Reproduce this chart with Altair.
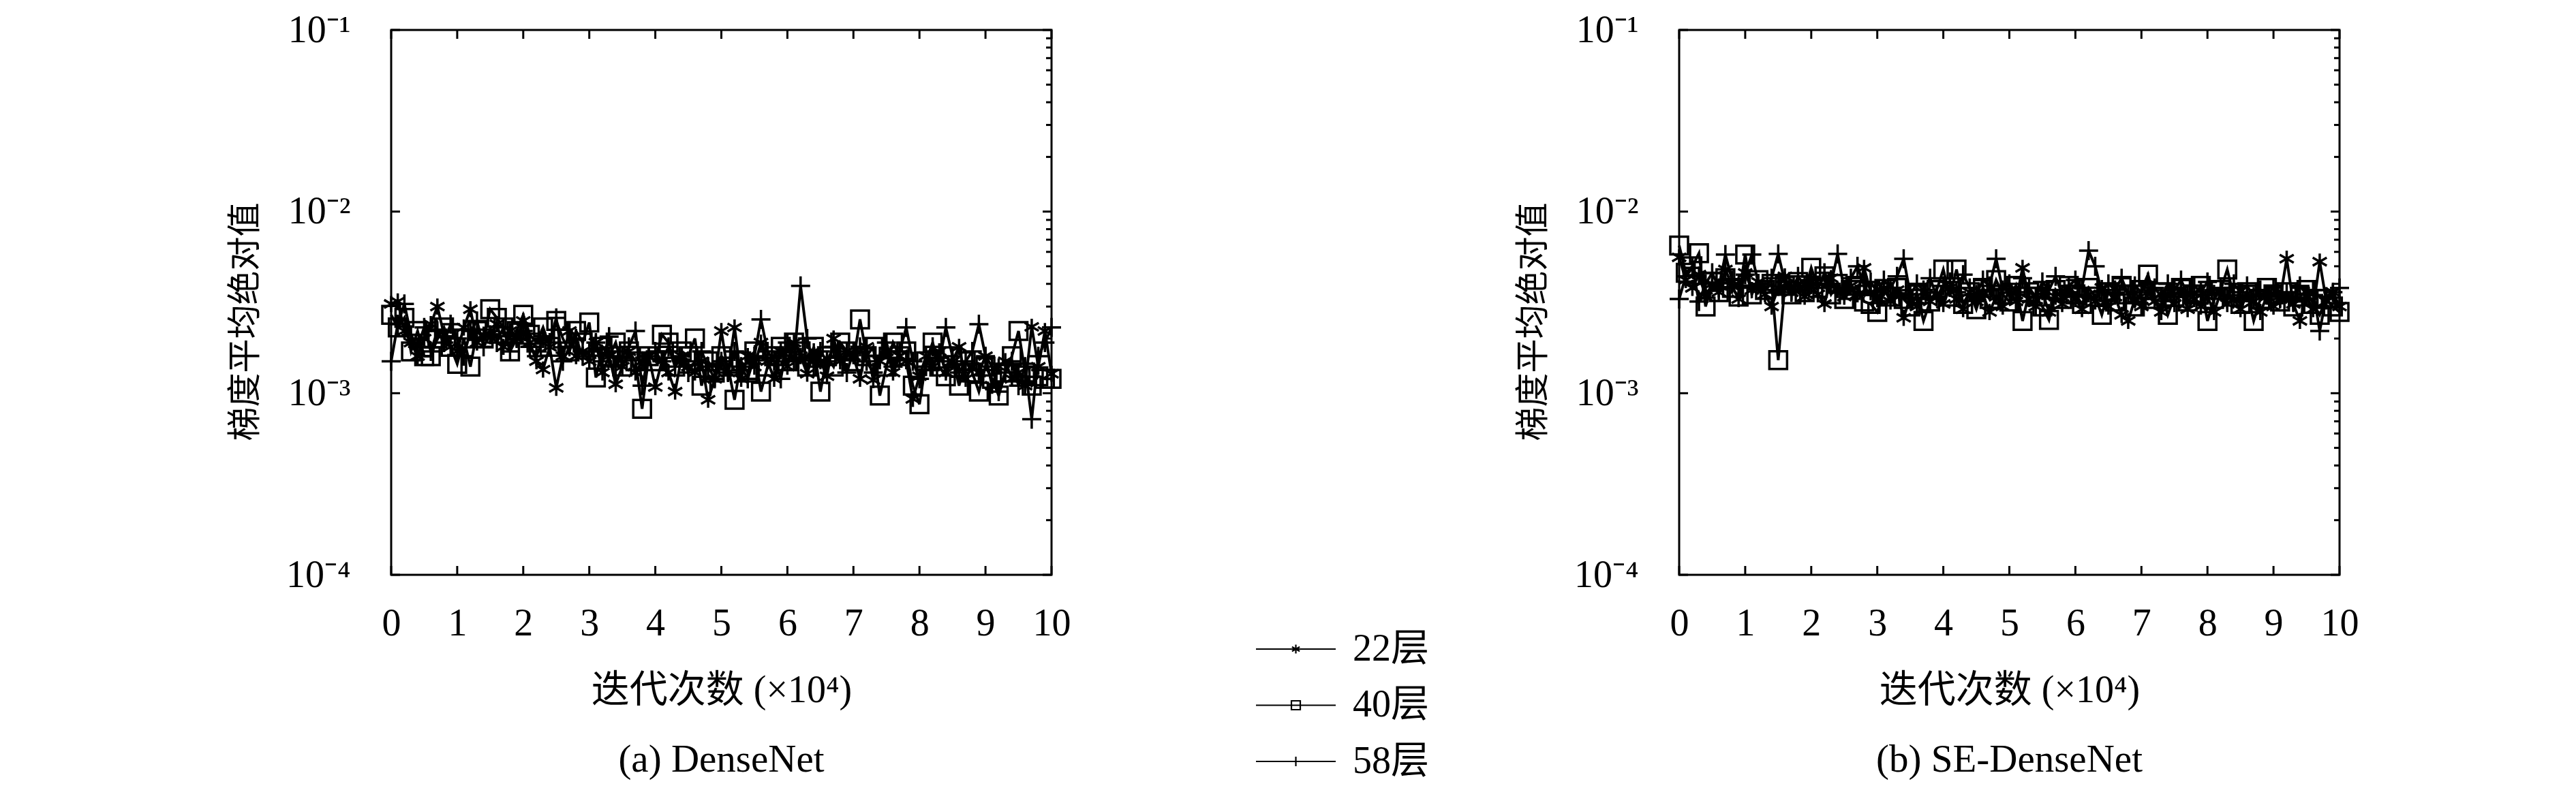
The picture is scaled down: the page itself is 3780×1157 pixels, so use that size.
import altair as alt
import pandas as pd

# ---------------- data ----------------
SERIES = ["22层", "40层", "58层"]
ITER = [i / 10 for i in range(101)]          # iterations (x 10^4)
X_TICKS = [0, 1, 2, 3, 4, 5, 6, 7, 8, 9, 10]
Y_TICKS = [1e-4, 1e-3, 1e-2, 1e-1]
Y_MINOR = [2e-4, 3e-4, 4e-4, 5e-4, 6e-4, 7e-4, 8e-4, 9e-4,
           2e-3, 3e-3, 4e-3, 5e-3, 6e-3, 7e-3, 8e-3, 9e-3,
           2e-2, 3e-2, 4e-2, 5e-2, 6e-2, 7e-2, 8e-2, 9e-2]

# values in units of 1e-3
DN_22 = [3.1, 3.2, 2.2, 1.9, 1.6, 2.0, 2.4, 3.0, 2.1, 1.8,
         1.7, 2.3, 2.9, 1.9, 2.1, 2.1, 2.4, 1.8, 2.2, 2.0,
         2.5, 1.9, 1.5, 1.35, 1.8, 1.07, 1.6, 2.2, 1.6, 1.7,
         1.5, 1.9, 1.3, 1.6, 1.12, 1.4, 1.7, 1.3, 1.5, 1.6,
         1.08, 1.5, 1.3, 1.02, 1.6, 1.4, 1.3, 1.5, 0.92, 1.2,
         2.2, 1.3, 2.3, 1.2, 1.6, 1.4, 1.9, 1.5, 1.2, 1.7,
         1.4, 1.9, 1.6, 1.28, 1.7, 1.5, 1.24, 2.0, 1.5, 1.7,
         1.6, 1.2, 1.8, 1.18, 1.5, 1.7, 1.3, 1.6, 1.5, 0.93,
         1.24, 1.6, 1.4, 1.7, 1.3, 1.5, 1.8, 1.2, 1.4, 1.3,
         1.6, 1.1, 1.4, 1.5, 1.2, 1.3, 1.1, 2.32, 1.4, 2.2,
         1.28]
DN_40 = [2.7, 2.3, 2.6, 1.7, 2.2, 1.6, 1.6, 2.0, 2.3, 1.8,
         1.45, 2.0, 1.4, 2.2, 2.0, 2.9, 2.6, 2.3, 1.7, 2.2,
         2.7, 2.1, 1.9, 2.3, 1.8, 2.5, 2.0, 1.7, 2.2, 1.9,
         2.45, 1.22, 1.8, 1.6, 1.9, 1.4, 1.7, 1.5, 0.82, 1.6,
         1.5, 2.1, 1.9, 1.4, 1.7, 1.6, 2.0, 1.1, 1.5, 1.3,
         1.6, 1.4, 0.92, 1.5, 1.3, 1.7, 1.02, 1.4, 1.6, 1.8,
         1.5, 1.9, 1.7, 1.4, 1.8, 1.02, 1.6, 1.4, 1.9, 1.7,
         1.5, 2.55, 1.6, 1.8, 0.97, 1.4, 1.9, 1.6, 1.7, 1.1,
         0.87, 1.5, 1.9, 1.4, 1.24, 1.6, 1.1, 1.5, 1.3, 1.02,
         1.4, 1.2, 0.97, 1.3, 1.6, 2.2, 1.3, 1.1, 1.24, 1.2,
         1.2]
DN_58 = [1.5, 2.4, 3.1, 2.1, 1.8, 2.3, 1.7, 2.2, 1.9, 2.4,
         2.0, 1.6, 2.2, 2.5, 1.8, 2.1, 1.9, 2.3, 1.7, 2.0,
         2.2, 1.8, 1.6, 2.0, 1.9, 2.6, 1.5, 1.8, 2.0, 1.6,
         1.7, 1.9, 1.5, 2.05, 1.4, 1.6, 1.8, 2.2, 1.1, 1.6,
         1.7, 1.5, 1.8, 1.4, 1.6, 1.3, 1.5, 1.7, 1.4, 1.2,
         1.5, 1.3, 1.7, 1.4, 1.2, 1.6, 2.55, 1.7, 1.5, 1.2,
         1.9, 1.5, 3.9, 2.0, 1.4, 1.7, 1.5, 1.8, 1.6, 1.3,
         1.7, 1.8, 1.5, 1.3, 1.6, 1.9, 1.4, 1.7, 2.3, 1.5,
         1.2, 1.4, 1.8, 1.5, 2.3, 1.6, 1.3, 1.5, 1.7, 2.4,
         1.6, 1.4, 1.02, 1.3, 1.5, 1.1, 1.4, 0.72, 1.6, 1.9,
         2.3]

SE_22 = [5.6, 4.2, 3.8, 4.5, 3.4, 4.0, 3.6, 4.8, 3.9, 3.3,
         4.6, 3.7, 4.1, 3.5, 3.0, 3.8, 4.4, 3.6, 4.0, 3.4,
         3.9, 3.5, 3.1, 4.3, 3.7, 3.4, 3.9, 3.5, 4.9, 3.6,
         3.3, 3.8, 3.2, 3.7, 2.6, 3.4, 3.0, 3.6, 3.2, 3.5,
         3.1, 3.8, 3.3, 2.9, 3.6, 3.2, 3.5, 2.8, 3.4, 3.0,
         3.7, 3.2, 4.9, 3.3, 3.0, 3.6, 2.8, 3.4, 3.1, 3.7,
         3.3, 2.9, 3.5, 3.2, 3.8, 3.0, 3.4, 2.7, 2.5, 3.3,
         3.0, 3.6, 3.2, 2.8, 3.5, 3.1, 3.7, 2.9, 3.3, 3.0,
         3.4, 2.8, 3.6, 3.1, 3.3, 2.9, 3.5, 3.2, 2.8, 3.4,
         3.0, 3.3, 5.5, 3.1, 2.5, 3.4, 2.9, 5.3, 3.2, 3.6,
         3.0]
SE_40 = [6.5, 4.6, 5.0, 5.9, 3.0, 4.1, 3.6, 4.3, 3.8, 3.4,
         5.8, 3.5, 4.2, 3.7, 4.0, 1.52, 3.9, 3.5, 4.1, 3.6,
         4.9, 3.8, 4.4, 3.5, 4.0, 3.3, 3.7, 3.9, 3.2, 3.1,
         2.8, 3.6, 3.4, 3.8, 3.3, 3.0, 3.5, 2.5, 3.2, 3.7,
         4.8, 3.4, 4.8, 3.1, 3.6, 2.9, 3.8, 3.3, 4.2, 3.5,
         3.2, 3.9, 2.5, 3.6, 3.4, 3.0, 2.53, 3.7, 3.3, 3.9,
         3.5, 3.1, 3.8, 3.4, 2.7, 3.6, 3.2, 3.9, 3.5, 3.0,
         3.7, 4.5, 3.3, 3.6, 2.7, 3.4, 3.8, 3.2, 3.5, 3.9,
         2.5, 3.3, 3.7, 4.8, 3.4, 3.1, 3.6, 2.5, 3.3, 3.8,
         3.5, 3.2, 3.6, 3.0, 3.4, 3.7, 3.1, 2.7, 3.3, 3.0,
         2.8]
SE_58 = [3.3, 4.4, 4.9, 3.2, 4.0, 4.6, 3.8, 5.8, 4.2, 3.9,
         4.5, 5.8, 4.0, 3.7, 4.3, 5.85, 4.1, 3.6, 4.4, 3.9,
         4.2, 3.8, 4.6, 4.0, 5.85, 3.7, 4.3, 5.0, 3.9, 4.1,
         3.6, 4.2, 3.8, 4.4, 5.5, 3.5, 4.0, 3.7, 4.3, 3.4,
         3.9, 4.1, 3.6, 4.5, 3.8, 3.5, 4.2, 3.9, 5.5, 3.7,
         4.0, 3.6, 4.3, 3.8, 3.4, 4.1, 3.7, 4.4, 3.5, 3.9,
         4.2, 3.8, 6.1, 5.0, 3.6, 4.0, 3.7, 4.3, 3.5, 3.9,
         3.6, 4.1, 3.8, 3.4, 4.0, 3.7, 4.2, 3.5, 3.9, 3.6,
         4.1, 3.5, 3.8, 3.3, 4.0, 3.6, 3.9, 3.4, 3.7, 3.5,
         3.8, 3.3, 3.6, 3.2, 3.9, 3.5, 3.7, 2.2, 3.4, 3.6,
         3.8]

# ---------------- style ----------------
FONT = "Liberation Serif, Noto Sans CJK SC, serif"
ASTERISK = "M0,-1L0,1M-0.87,-0.5L0.87,0.5M-0.87,0.5L0.87,-0.5"
PLUS = "M-1,0L1,0M0,-1L0,1"
SHAPES = [ASTERISK, "square", PLUS]
SIZES = [560, 676, 784]
LEG_SIZES = [169, 169, 196]
W, H = 969, 800
TICK_MAJOR, TICK_MINOR = 13, 8

Y_LABELS = ("datum.value < 0.0005 ? '10⁻⁴' : datum.value < 0.005 ? '10⁻³' : "
            "datum.value < 0.05 ? '10⁻²' : '10⁻¹'")


def panel(series_values, caption):
    xs = alt.Scale(domain=[0, 10], nice=False, zero=False)
    ys = alt.Scale(type="log", domain=[1e-4, 1e-1], nice=False)
    xaxis = alt.Axis(values=X_TICKS, format="d", title="迭代次数 (×10⁴)",
                     domain=False, ticks=False, grid=False,
                     labelFlush=False, labelOverlap=False,
                     labelPadding=44, titlePadding=43,
                     labelFont=FONT, labelFontSize=56, labelColor="black",
                     titleFont=FONT, titleFontSize=56, titleFontWeight="normal",
                     titleColor="black")
    yaxis = alt.Axis(values=Y_TICKS, labelExpr=Y_LABELS, title="梯度平均绝对值",
                     domain=False, ticks=False, grid=False,
                     labelFlush=False, labelOverlap=False,
                     labelPadding=60, titlePadding=34, titleY=428,
                     labelFont=FONT, labelFontSize=56, labelColor="black",
                     titleFont=FONT, titleFontSize=50, titleFontWeight="normal",
                     titleColor="black")
    layers = []
    for vals, shape, size in zip(series_values, SHAPES, SIZES):
        df = pd.DataFrame({"x": ITER, "v": [a * 1e-3 for a in vals]})
        base = alt.Chart(df).encode(
            x=alt.X("x:Q", scale=xs, axis=xaxis),
            y=alt.Y("v:Q", scale=ys, axis=yaxis),
        )
        layers.append(base.mark_line(color="black", strokeWidth=4))
        layers.append(base.mark_point(shape=shape, size=size, filled=False,
                                      color="black", strokeWidth=3.5, opacity=1))

    xt = pd.DataFrame({"x": X_TICKS})
    yt = pd.DataFrame({"v": Y_TICKS})
    ym = pd.DataFrame({"v": Y_MINOR})
    rule = dict(color="black", strokeWidth=3)
    layers.append(alt.Chart(xt).mark_rule(**rule).encode(
        x=alt.X("x:Q", scale=xs, axis=xaxis),
        y=alt.value(H), y2=alt.value(H - TICK_MAJOR)))
    layers.append(alt.Chart(xt).mark_rule(**rule).encode(
        x=alt.X("x:Q", scale=xs, axis=xaxis),
        y=alt.value(0), y2=alt.value(TICK_MAJOR)))
    layers.append(alt.Chart(yt).mark_rule(**rule).encode(
        y=alt.Y("v:Q", scale=ys, axis=yaxis),
        x=alt.value(0), x2=alt.value(TICK_MAJOR)))
    layers.append(alt.Chart(yt).mark_rule(**rule).encode(
        y=alt.Y("v:Q", scale=ys, axis=yaxis),
        x=alt.value(W), x2=alt.value(W - TICK_MAJOR)))
    layers.append(alt.Chart(ym).mark_rule(**rule).encode(
        y=alt.Y("v:Q", scale=ys, axis=yaxis),
        x=alt.value(W), x2=alt.value(W - TICK_MINOR)))

    return alt.layer(*layers).properties(
        width=W, height=H,
        view=alt.ViewBackground(stroke="black", strokeWidth=3),
        title=alt.TitleParams(text=caption, orient="bottom", offset=47,
                              font=FONT, fontSize=57, fontWeight="normal",
                              color="black", anchor="middle"),
    )


# ---------------- legend (middle column) ----------------
LEG_W, LEG_H = 610, 1090
LEG_X_DOMAIN = [-2.137, 3.077]      # line runs from u=0 to u=1
LEG_Y_DOMAIN = [-11.018, 2.194]     # rows r = 0, 1, 2
LEG_TEXT_U = 1.214

leg_lines = pd.DataFrame({"u": [0, 1, 0, 1, 0, 1],
                          "r": [0, 0, 1, 1, 2, 2],
                          "s": [SERIES[0], SERIES[0], SERIES[1], SERIES[1],
                                SERIES[2], SERIES[2]]})
lx = alt.Scale(domain=LEG_X_DOMAIN, nice=False, zero=False)
ly = alt.Scale(domain=LEG_Y_DOMAIN, nice=False, zero=False, reverse=True)
leg_layers = [alt.Chart(leg_lines).mark_line(color="black", strokeWidth=2.2).encode(
    x=alt.X("u:Q", scale=lx, axis=None),
    y=alt.Y("r:Q", scale=ly, axis=None),
    detail="s:N")]
for i, (name, shape, size) in enumerate(zip(SERIES, SHAPES, LEG_SIZES)):
    d = pd.DataFrame({"u": [0.5], "r": [i], "s": [name], "tu": [LEG_TEXT_U]})
    leg_layers.append(alt.Chart(d).mark_point(shape=shape, size=size, filled=False,
                                              color="black", strokeWidth=2.2,
                                              opacity=1).encode(
        x=alt.X("u:Q", scale=lx, axis=None),
        y=alt.Y("r:Q", scale=ly, axis=None)))
    leg_layers.append(alt.Chart(d).mark_text(align="left", baseline="middle",
                                             font=FONT, fontSize=56,
                                             color="black").encode(
        x=alt.X("tu:Q", scale=lx, axis=None),
        y=alt.Y("r:Q", scale=ly, axis=None),
        text="s:N"))

legend = alt.layer(*leg_layers).properties(
    width=LEG_W, height=LEG_H,
    view=alt.ViewBackground(stroke="transparent", strokeWidth=0),
)

left = panel([DN_22, DN_40, DN_58], "(a) DenseNet")
right = panel([SE_22, SE_40, SE_58], "(b) SE-DenseNet")

chart = alt.hconcat(left, legend, right, spacing=20).properties(
    padding={"left": 325, "top": 6, "right": 0, "bottom": 0},
    background="white",
)

chart.save("out.html", embed_options={"renderer": "svg", "actions": False})
